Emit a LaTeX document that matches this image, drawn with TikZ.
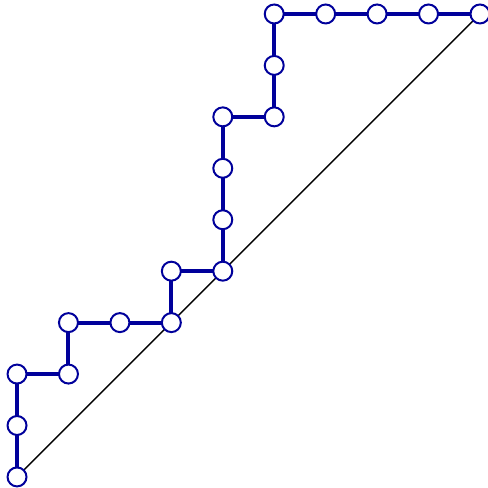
\documentclass[tikz,border=0pt]{standalone}
\usepackage{tikz}
\usetikzlibrary{positioning}
\usepackage{xcolor}
\definecolor{pathblue}{RGB}{0,0,155}

\tikzset{
    vtx/.style={circle, draw=pathblue, fill=white, line width=1.1pt, minimum size=10.5pt, inner sep=0pt},
    stepline/.style={pathblue, line width=2.2pt}
}

\begin{document}
\begin{tikzpicture}[scale=1.0]
    \useasboundingbox (-0.331,-0.214) rectangle (9.156,9.272);

    % Vertices of the path
    \foreach \x/\y [count=\i from 0] in {0/0,0/1,0/2,1/2,1/3,2/3,3/3,3/4,4/4,4/5,4/6,4/7,5/7,5/8,5/9,6/9,7/9,8/9,9/9}
        \coordinate (c\i) at (\x,\y);

    % Diagonal
    \draw[black, line width=0.8pt] (c0) -- (c18);

    % Steps
    \foreach \i [evaluate=\i as \j using int(\i+1)] in {0,...,17}
        \draw[stepline] (c\i) -- (c\j);

    % Circles
    \foreach \i in {0,...,18}
        \node[vtx] (p\i) at (c\i) {};
\end{tikzpicture}
\end{document}
